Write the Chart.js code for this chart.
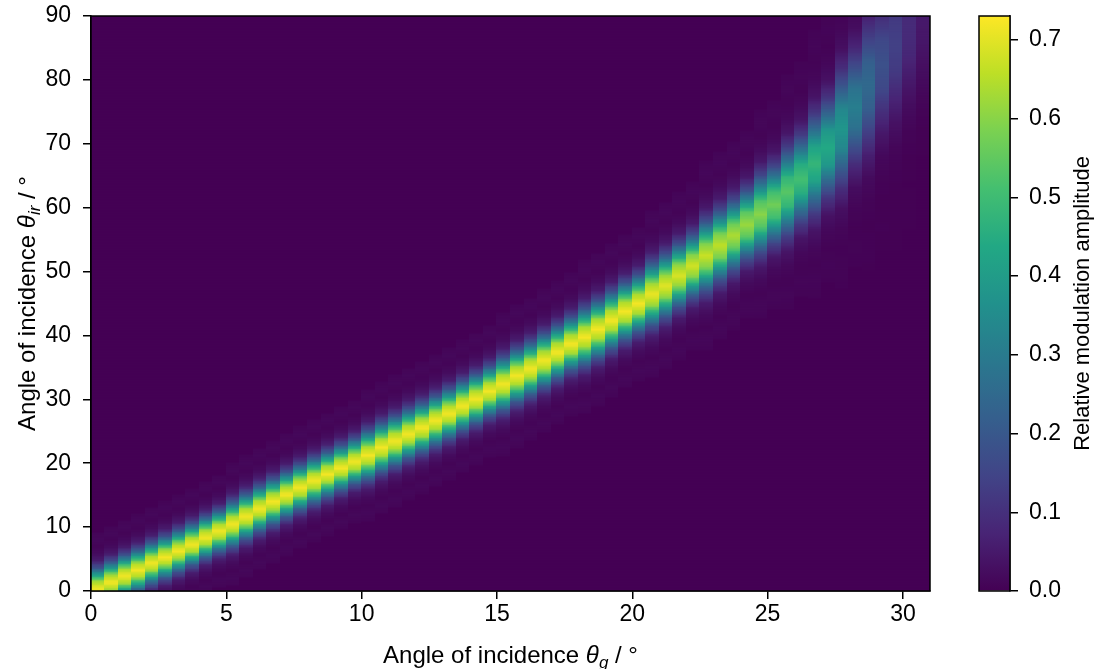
<!DOCTYPE html>
<html>
<head>
<meta charset="utf-8">
<script src="https://cdn.jsdelivr.net/npm/chart.js@4.4.0/dist/chart.umd.min.js"></script>
<style>
  body { margin: 0; background: #fff; }
  #wrap { position: relative; width: 1097px; height: 669px; }
  #main { position: absolute; left: 0; top: 0; }
  #cbar { position: absolute; left: 960px; top: 0; }
</style>
</head>
<body>
<div id="wrap">
  <canvas id="main" width="960" height="669"></canvas>
  <canvas id="cbar" width="137" height="669"></canvas>
</div>
<script>
// column centres (theta_g, deg), each column is 0.5 deg wide
const thetaG = [0.25,0.75,1.25,1.75,2.25,2.75,3.25,3.75,4.25,4.75,5.25,5.75,6.25,6.75,7.25,7.75,8.25,8.75,9.25,9.75,
  10.25,10.75,11.25,11.75,12.25,12.75,13.25,13.75,14.25,14.75,15.25,15.75,16.25,16.75,17.25,17.75,18.25,18.75,19.25,19.75,
  20.25,20.75,21.25,21.75,22.25,22.75,23.25,23.75,24.25,24.75,25.25,25.75,26.25,26.75,27.25,27.75,28.25,28.75,29.25,29.75,
  30.25,30.75];
// theta_ir of the ridge maximum in each column
const ridgeCenter = [0.5,1.5,2.5,3.4,4.5,5.4,6.4,7.4,8.5,9.5,
  10.6,11.8,13.0,14.1,15.2,16.3,17.4,18.4,19.4,20.4,
  21.4,22.6,23.6,24.7,25.7,26.8,27.9,29.1,30.2,31.4,
  32.5,33.8,34.9,36.2,37.5,38.8,39.9,41.1,42.5,43.9,
  45.1,46.6,47.9,49.5,51.0,52.6,54.2,55.8,57.5,59.1,
  60.6,62.6,64.6,67.0,69.5,72.5,75.8,79.3,82.5,85.5,
  88.0,90.0];
// peak amplitude in each column
const ridgeAmp = [0.72,0.72,0.72,0.72,0.72,0.72,0.72,0.72,0.72,0.72,
  0.72,0.72,0.72,0.72,0.72,0.72,0.72,0.72,0.72,0.72,
  0.72,0.72,0.72,0.72,0.72,0.72,0.72,0.72,0.72,0.72,
  0.72,0.72,0.72,0.72,0.72,0.72,0.72,0.72,0.72,0.72,
  0.72,0.71,0.70,0.69,0.68,0.67,0.66,0.64,0.62,0.60,
  0.57,0.54,0.51,0.48,0.44,0.38,0.31,0.25,0.18,0.14,
  0.09,0.05];
// full width at half maximum along theta_ir (deg)
const ridgeWidth = [4.4,4.4,4.4,4.4,4.4,4.4,4.4,4.4,4.4,4.4,
  4.8,4.8,4.8,4.8,4.8,4.8,4.8,4.8,4.8,4.8,
  5.2,5.2,5.2,5.2,5.2,5.2,5.2,5.2,5.2,5.2,
  5.6,5.6,5.6,5.6,5.6,5.6,6.0,6.0,6.0,6.0,
  6.0,6.6,6.6,6.6,6.6,7.4,7.4,7.4,7.4,8.2,
  8.2,9.2,9.2,10.5,10.5,12.5,12.5,14.5,14.5,16,
  16,16];
// cross-section of the ridge, offsets -2..2 FWHM in steps of 0.25
const profile = [0.01,0.02,0.01,0.03,0.08,0.25,0.55,0.88,1,0.88,0.55,0.25,0.08,0.03,0.01,0.02,0.01];

const xTicks = [0, 5, 10, 15, 20, 25, 30];
const yTicks = [0, 10, 20, 30, 40, 50, 60, 70, 80, 90];
const cbTicks = [0.0, 0.1, 0.2, 0.3, 0.4, 0.5, 0.6, 0.7];
const vmax = 0.7305;

const viridis = ['#440154','#482475','#414487','#355f8d','#2a788e','#21918c','#22a884','#44bf70','#7ad151','#bddf26','#fde725'];
const FONT = '"Liberation Sans", Arial, sans-serif';

function hexRgb(h) {
  return [parseInt(h.substr(1,2),16), parseInt(h.substr(3,2),16), parseInt(h.substr(5,2),16)];
}
const viridisRgb = viridis.map(hexRgb);
function colorFor(v) {
  let t = Math.max(0, Math.min(1, v / vmax)) * (viridisRgb.length - 1);
  const i = Math.min(viridisRgb.length - 2, Math.floor(t));
  const f = t - i;
  const a = viridisRgb[i], b = viridisRgb[i + 1];
  return 'rgb(' + Math.round(a[0] + (b[0]-a[0])*f) + ',' + Math.round(a[1] + (b[1]-a[1])*f) + ',' + Math.round(a[2] + (b[2]-a[2])*f) + ')';
}
function profileAt(u) {
  const p = (u + 2) / 0.25;
  if (p <= 0 || p >= profile.length - 1) return 0;
  const i = Math.floor(p), f = p - i;
  return profile[i] * (1 - f) + profile[i + 1] * f;
}

// build cells: one per 0.5 deg column and 0.25 deg row
const rowStep = 0.25;
const cells = [];
thetaG.forEach((g, c) => {
  for (let r = 0; r < 360; r++) {
    const y = (r + 0.5) * rowStep;
    const v = ridgeAmp[c] * profileAt((y - ridgeCenter[c]) / ridgeWidth[c]);
    cells.push({ x: g, y: y, v: v });
  }
});

// keep the plot area where the reference has it
function noPad(s) {
  s.paddingTop = 0; s.paddingBottom = 0; s.paddingLeft = 0; s.paddingRight = 0;
}

const heatmapPlugin = {
  id: 'heatmap',
  beforeDatasetsDraw(chart) {
    const ctx = chart.ctx, xs = chart.scales.x, ys = chart.scales.y, area = chart.chartArea;
    ctx.save();
    ctx.beginPath();
    ctx.rect(area.left, area.top, area.right - area.left, area.bottom - area.top);
    ctx.clip();
    chart.data.datasets[0].data.forEach(d => {
      const x0 = xs.getPixelForValue(d.x - 0.25), x1 = xs.getPixelForValue(d.x + 0.25);
      const y0 = ys.getPixelForValue(d.y + rowStep / 2), y1 = ys.getPixelForValue(d.y - rowStep / 2);
      ctx.fillStyle = colorFor(d.v);
      ctx.fillRect(Math.floor(x0), Math.floor(y0), Math.ceil(x1) - Math.floor(x0) + 0.5, Math.ceil(y1) - Math.floor(y0) + 0.5);
    });
    ctx.restore();
  },
  afterDraw(chart) {
    const ctx = chart.ctx, area = chart.chartArea;
    ctx.save();
    ctx.strokeStyle = '#000';
    ctx.lineWidth = 1.5;
    ctx.strokeRect(area.left, area.top, area.right - area.left, area.bottom - area.top);
    // axis titles with italic theta and subscripts
    drawTitle(ctx, (area.left + area.right) / 2, 663, 0, 'g');
    drawTitle(ctx, 35, (area.top + area.bottom) / 2, -Math.PI / 2, 'ir');
    ctx.restore();
  }
};

function drawTitle(ctx, cx, cy, rot, sub) {
  const parts = [
    { t: 'Angle of incidence ', f: '24px ' + FONT, dy: 0 },
    { t: 'θ', f: 'italic 24px ' + FONT, dy: 0 },
    { t: sub, f: 'italic 17px ' + FONT, dy: 5 },
    { t: ' / °', f: '24px ' + FONT, dy: 0 }
  ];
  let w = 0;
  parts.forEach(p => { ctx.font = p.f; p.w = ctx.measureText(p.t).width; w += p.w; });
  ctx.save();
  ctx.translate(cx, cy);
  ctx.rotate(rot);
  ctx.fillStyle = '#000';
  ctx.textBaseline = 'alphabetic';
  ctx.textAlign = 'left';
  let x = -w / 2;
  parts.forEach(p => { ctx.font = p.f; ctx.fillText(p.t, x, p.dy); x += p.w; });
  ctx.restore();
}

const tickFont = { family: FONT, size: 23 };

new Chart(document.getElementById('main'), {
  type: 'scatter',
  data: { datasets: [{ data: cells, pointRadius: 0, pointHoverRadius: 0 }] },
  options: {
    responsive: false,
    animation: false,
    devicePixelRatio: 1,
    events: [],
    layout: { padding: { top: 16, right: 30, left: 0, bottom: 0 } },
    plugins: { legend: { display: false }, tooltip: { enabled: false } },
    scales: {
      x: {
        type: 'linear', min: 0, max: 31,
        afterBuildTicks: s => { s.ticks = xTicks.map(v => ({ value: v })); },
        afterFit: s => { s.height = 78; noPad(s); },
        ticks: { font: tickFont, color: '#000', padding: 2, maxRotation: 0 },
        grid: { drawOnChartArea: false, drawTicks: true, tickLength: 8, color: '#000', lineWidth: 1.5 },
        border: { display: true, color: '#000', width: 1.5 }
      },
      y: {
        type: 'linear', min: 0, max: 90,
        afterBuildTicks: s => { s.ticks = yTicks.map(v => ({ value: v })); },
        afterFit: s => { s.width = 91; noPad(s); },
        ticks: { font: tickFont, color: '#000', padding: 12 },
        grid: { drawOnChartArea: false, drawTicks: true, tickLength: 8, color: '#000', lineWidth: 1.5 },
        border: { display: true, color: '#000', width: 1.5 }
      }
    }
  },
  plugins: [heatmapPlugin]
});

// colour bar
const cbarPlugin = {
  id: 'cbarFrame',
  afterDraw(chart) {
    const ctx = chart.ctx, area = chart.chartArea;
    ctx.save();
    ctx.strokeStyle = '#000';
    ctx.lineWidth = 1.5;
    ctx.strokeRect(area.left, area.top, area.right - area.left, area.bottom - area.top);
    ctx.translate(129, (area.top + area.bottom) / 2);
    ctx.rotate(-Math.PI / 2);
    ctx.font = '22px ' + FONT;
    ctx.fillStyle = '#000';
    ctx.textAlign = 'center';
    ctx.textBaseline = 'alphabetic';
    ctx.fillText('Relative modulation amplitude', 0, 0);
    ctx.restore();
  }
};

new Chart(document.getElementById('cbar'), {
  type: 'bar',
  data: {
    labels: ['amplitude'],
    datasets: [{
      data: [[0, vmax]],
      barPercentage: 1,
      categoryPercentage: 1,
      borderWidth: 0,
      backgroundColor: function(context) {
        const chart = context.chart, ys = chart.scales.y;
        if (!chart.chartArea) return viridis[0];
        const g = chart.ctx.createLinearGradient(0, ys.getPixelForValue(0), 0, ys.getPixelForValue(vmax));
        viridis.forEach((c, i) => g.addColorStop(i / (viridis.length - 1), c));
        return g;
      }
    }]
  },
  options: {
    responsive: false,
    animation: false,
    devicePixelRatio: 1,
    events: [],
    layout: { padding: { top: 16, bottom: 78, left: 19, right: 0 } },
    plugins: { legend: { display: false }, tooltip: { enabled: false } },
    scales: {
      x: { display: false },
      y: {
        position: 'right', min: 0, max: vmax,
        afterBuildTicks: s => { s.ticks = cbTicks.map(v => ({ value: v })); },
        afterFit: s => { s.width = 87; noPad(s); },
        ticks: { font: tickFont, color: '#000', padding: 11, callback: v => v.toFixed(1) },
        grid: { drawOnChartArea: false, drawTicks: true, tickLength: 8, color: '#000', lineWidth: 1.5 },
        border: { display: true, color: '#000', width: 1.5 }
      }
    }
  },
  plugins: [cbarPlugin]
});
</script>
</body>
</html>
